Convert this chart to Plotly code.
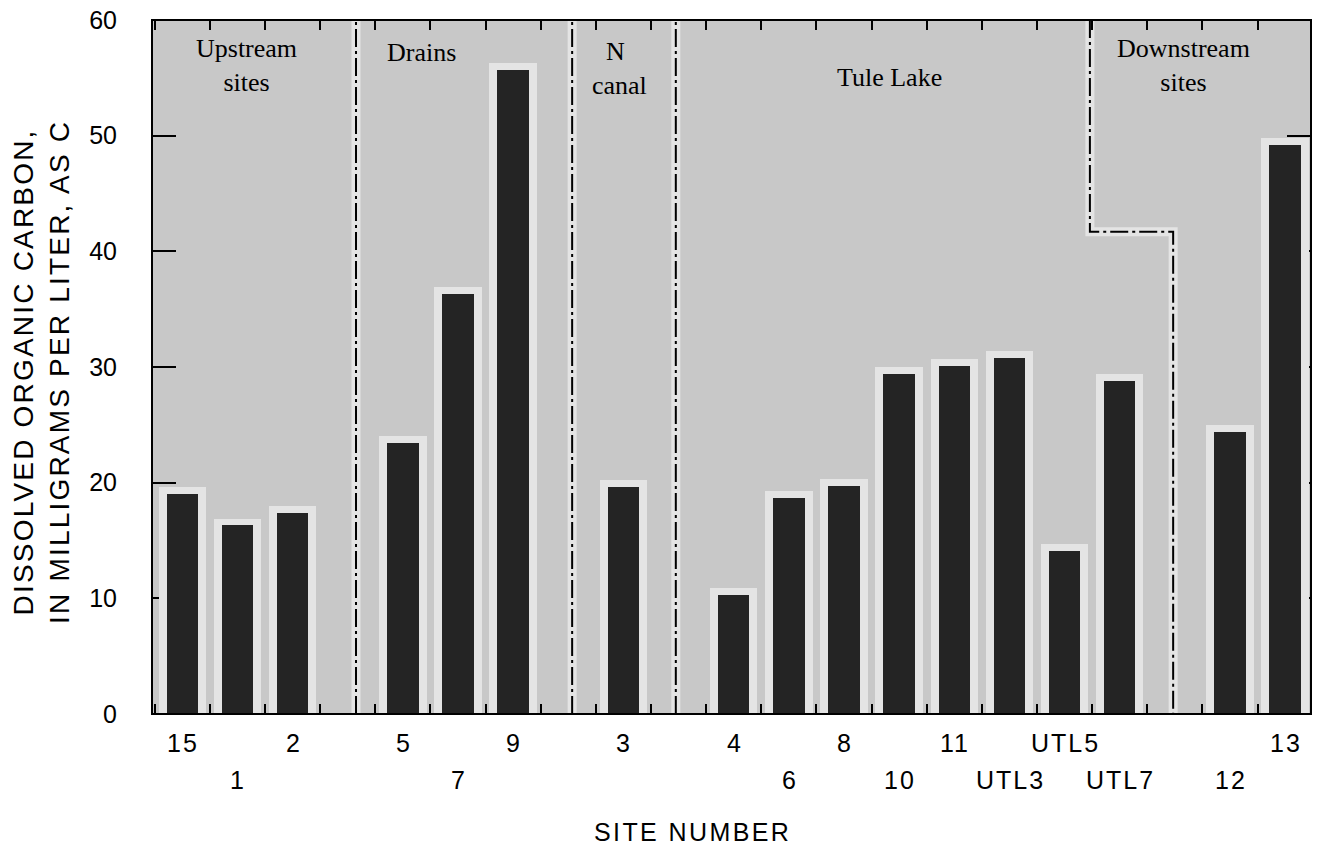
import plotly.graph_objects as go

# ---- data ----
group_names = ["Upstream sites", "Drains", "N canal", "Tule Lake", "Downstream sites"]
group_sites = [
    ["15", "1", "2"],
    ["5", "7", "9"],
    ["3"],
    ["4", "6", "8", "10", "11", "UTL3", "UTL5", "UTL7"],
    ["12", "13"],
]
doc_values = [
    [19.0, 16.3, 17.4],
    [23.4, 36.3, 55.7],
    [19.6],
    [10.3, 18.7, 19.7, 29.4, 30.1, 30.8, 14.1, 28.8],
    [24.4, 49.2],
]
label_rows = [
    [1, 2, 1],
    [1, 2, 1],
    [1],
    [1, 2, 1, 2, 1, 2, 1, 2],
    [2, 1],
]
y_ticks = [0, 10, 20, 30, 40, 50, 60]

# group divider lines (in slot units) and the stepped downstream boundary
divider_x = [3.15, 7.07, 8.95]
step_x = [16.46, 17.97]
step_level = 41.7

# group labels: (text, slot x, y value)
group_labels = [
    ("Upstream<br>sites", 1.17, 56.1),
    ("Drains", 4.33, 57.15),
    ("N", 7.86, 57.3),
    ("canal", 7.92, 54.3),
    ("Tule Lake", 12.83, 55.0),
    ("Downstream<br>sites", 18.15, 56.1),
]

# ---- build positions: one empty slot between groups ----
xs, vals, names, rows = [], [], [], []
pos = 0
for sites, values, rws in zip(group_sites, doc_values, label_rows):
    for s, v, r in zip(sites, values, rws):
        xs.append(pos)
        vals.append(v)
        names.append(s)
        rows.append(r)
        pos += 1
    pos += 1
last_slot = xs[-1]

SANS = "Liberation Sans, Arial, sans-serif"
SERIF = "Liberation Serif, Times New Roman, serif"
BG = "#c8c8c8"
HALO = "#e4e4e4"
BAR = "#242424"


def spaced(text, px):
    return f'<span style="letter-spacing:{px}px">{text}</span>'


fig = go.Figure()

# light halo behind bars
fig.add_trace(go.Bar(
    x=xs, y=[v + 0.6 for v in vals], width=0.86,
    marker=dict(color=HALO, line=dict(width=0)),
    hoverinfo="skip", showlegend=False,
))
# dark bars
fig.add_trace(go.Bar(
    x=xs, y=vals, width=0.57,
    marker=dict(color=BAR, line=dict(width=0)),
    text=names, hovertemplate="Site %{text}: %{y} mg/L<extra></extra>",
    textposition="none", showlegend=False,
))

shapes = []
dash = "18px,4px,3px,4px"
for dx in divider_x:
    shapes.append(dict(type="line", xref="x", yref="y", x0=dx, x1=dx, y0=0, y1=60,
                       line=dict(color=HALO, width=9), layer="below"))
    shapes.append(dict(type="line", xref="x", yref="y", x0=dx, x1=dx, y0=0, y1=60,
                       line=dict(color="black", width=2, dash=dash), layer="below"))
step_path = (f"M {step_x[0]},60 L {step_x[0]},{step_level} "
             f"L {step_x[1]},{step_level} L {step_x[1]},0")
shapes.append(dict(type="path", xref="x", yref="y", path=step_path,
                   line=dict(color=HALO, width=9), layer="below"))
shapes.append(dict(type="path", xref="x", yref="y", path=step_path,
                   line=dict(color="black", width=2, dash=dash), layer="below"))
# frame
shapes.append(dict(type="rect", xref="paper", yref="paper", x0=0, x1=1, y0=0, y1=1,
                   line=dict(color="black", width=2), layer="above"))

annotations = []
for text, gx, gy in group_labels:
    annotations.append(dict(text=text, x=gx, y=gy, xref="x", yref="y",
                            showarrow=False, xanchor="center", yanchor="middle",
                            font=dict(family=SERIF, size=26, color="black")))
for x, n, r in zip(xs, names, rows):
    annotations.append(dict(text=spaced(n, 2), x=x, y=0, xref="x", yref="paper",
                            showarrow=False, xanchor="center", yanchor="middle",
                            xshift=1, yshift=-29 if r == 1 else -66,
                            font=dict(family=SANS, size=25, color="black")))
annotations.append(dict(text=spaced("SITE NUMBER", 2.4), x=0.466, y=0,
                        xref="paper", yref="paper",
                        showarrow=False, xanchor="center", yanchor="middle", yshift=-118,
                        font=dict(family=SANS, size=25, color="black")))
annotations.append(dict(text=spaced("DISSOLVED ORGANIC CARBON,", 2.2) + "<br>"
                        + spaced("IN MILLIGRAMS PER LITER, AS C", 2.2),
                        x=-0.0958, y=0.5, xref="paper", yref="paper", textangle=-90,
                        showarrow=False, xanchor="center", yanchor="middle", yshift=-5,
                        font=dict(family=SANS, size=28, color="black")))

fig.update_layout(
    width=1317, height=846,
    margin=dict(l=152, r=6, t=20, b=132, autoexpand=False),
    paper_bgcolor="white", plot_bgcolor=BG,
    barmode="overlay", bargap=0,
    shapes=shapes, annotations=annotations,
    xaxis=dict(range=[-0.55, last_slot + 0.47], tickmode="linear", tick0=0.5, dtick=1,
               ticks="inside", ticklen=10, tickwidth=1.5, tickcolor="black",
               showticklabels=False, showgrid=False, zeroline=False, automargin=False,
               showline=False, mirror="ticks", layer="below traces"),
    yaxis=dict(range=[0, 60], tickvals=y_ticks, ticks="inside", ticklen=24, tickwidth=2,
               tickcolor="black", showgrid=False, zeroline=False, showline=False,
               mirror="ticks", layer="below traces", ticklabelstandoff=34,
               ticklabeloverflow="allow", automargin=False,
               tickfont=dict(family=SANS, size=25, color="black")),
    font=dict(family=SANS, color="black"),
)

# remove the browser's default page margin so the figure sits at the window origin
fig.write_html("out.html",
               config={"displayModeBar": False},
               post_script="document.body.style.margin='0';document.body.style.overflow='hidden';")
